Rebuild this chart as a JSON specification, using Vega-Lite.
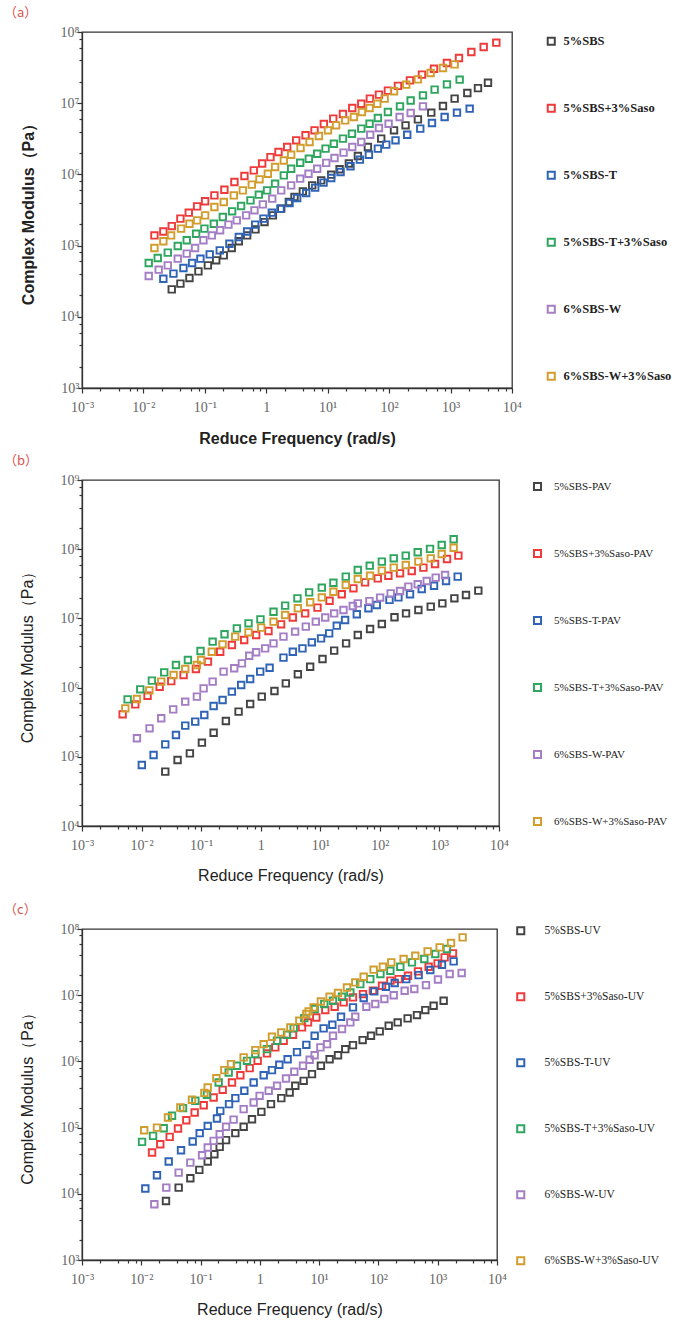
{
"$schema": "https://vega.github.io/schema/vega-lite/v6.json",
"background": "white",
"padding": {"left": 3, "top": 6, "right": 0, "bottom": 0},
"spacing": 19,
"config": {
  "view": {"stroke": "#333", "strokeWidth": 1.3},
  "axis": {"grid": false, "domainColor": "#333", "domainWidth": 1.3, "tickColor": "#333", "tickWidth": 1.2, "labelFont": "Liberation Serif", "labelFontSize": 14, "labelColor": "#666", "labelOverlap": false, "labelFlush": false, "titleColor": "#222", "titleFont": "Liberation Sans", "titleFontSize": 16}
},
"resolve": {"scale": {"color": "independent", "x": "independent", "y": "independent"}, "legend": {"color": "independent"}},
"datasets": {
"a": [
{"s":"5%SBS","f":0.0289,"g":2.43e4},{"s":"5%SBS","f":0.04,"g":2.92e4},{"s":"5%SBS","f":0.0561,"g":3.51e4},{"s":"5%SBS","f":0.0786,"g":4.35e4},{"s":"5%SBS","f":0.112,"g":5.28e4},{"s":"5%SBS","f":0.153,"g":6.21e4},{"s":"5%SBS","f":0.203,"g":7.29e4},{"s":"5%SBS","f":0.274,"g":9.25e4},{"s":"5%SBS","f":0.357,"g":1.15e5},{"s":"5%SBS","f":0.488,"g":1.39e5},{"s":"5%SBS","f":0.667,"g":1.69e5},{"s":"5%SBS","f":0.935,"g":2.14e5},{"s":"5%SBS","f":1.28,"g":2.66e5},{"s":"5%SBS","f":1.75,"g":3.3e5},{"s":"5%SBS","f":2.33,"g":4.09e5},{"s":"5%SBS","f":2.88,"g":4.81e5},{"s":"5%SBS","f":3.94,"g":5.78e5},{"s":"5%SBS","f":5.59,"g":7.02e5},{"s":"5%SBS","f":7.83,"g":8.25e5},{"s":"5%SBS","f":11.4,"g":9.91e5},{"s":"5%SBS","f":15.6,"g":1.18e6},{"s":"5%SBS","f":22.1,"g":1.42e6},{"s":"5%SBS","f":31,"g":1.81e6},{"s":"5%SBS","f":45.1,"g":2.43e6},{"s":"5%SBS","f":74.3,"g":3.18e6},{"s":"5%SBS","f":120,"g":4.16e6},{"s":"5%SBS","f":185,"g":4.89e6},{"s":"5%SBS","f":294,"g":5.93e6},{"s":"5%SBS","f":485,"g":7.36e6},{"s":"5%SBS","f":752,"g":9.14e6},{"s":"5%SBS","f":1164,"g":1.16e7},{"s":"5%SBS","f":1875,"g":1.39e7},{"s":"5%SBS","f":2793,"g":1.63e7},{"s":"5%SBS","f":4064,"g":1.94e7},
{"s":"5%SBS+3%Saso","f":0.0151,"g":1.39e5},{"s":"5%SBS+3%Saso","f":0.0211,"g":1.58e5},{"s":"5%SBS+3%Saso","f":0.0289,"g":1.88e5},{"s":"5%SBS+3%Saso","f":0.04,"g":2.39e5},{"s":"5%SBS+3%Saso","f":0.0547,"g":2.9e5},{"s":"5%SBS+3%Saso","f":0.0748,"g":3.56e5},{"s":"5%SBS+3%Saso","f":0.101,"g":4.19e5},{"s":"5%SBS+3%Saso","f":0.143,"g":5.08e5},{"s":"5%SBS+3%Saso","f":0.208,"g":6.1e5},{"s":"5%SBS+3%Saso","f":0.303,"g":7.82e5},{"s":"5%SBS+3%Saso","f":0.441,"g":9.49e5},{"s":"5%SBS+3%Saso","f":0.626,"g":1.14e6},{"s":"5%SBS+3%Saso","f":0.857,"g":1.42e6},{"s":"5%SBS+3%Saso","f":1.17,"g":1.75e6},{"s":"5%SBS+3%Saso","f":1.58,"g":2.06e6},{"s":"5%SBS+3%Saso","f":2.19,"g":2.43e6},{"s":"5%SBS+3%Saso","f":3.07,"g":3.01e6},{"s":"5%SBS+3%Saso","f":4.35,"g":3.54e6},{"s":"5%SBS+3%Saso","f":6.1,"g":4.16e6},{"s":"5%SBS+3%Saso","f":8.65,"g":5.1e6},{"s":"5%SBS+3%Saso","f":12.3,"g":6.07e6},{"s":"5%SBS+3%Saso","f":17.7,"g":7.05e6},{"s":"5%SBS+3%Saso","f":25.1,"g":8.57e6},{"s":"5%SBS+3%Saso","f":35.2,"g":9.84e6},{"s":"5%SBS+3%Saso","f":48.6,"g":1.16e7},{"s":"5%SBS+3%Saso","f":68.2,"g":1.32e7},{"s":"5%SBS+3%Saso","f":95.5,"g":1.5e7},{"s":"5%SBS+3%Saso","f":139,"g":1.75e7},{"s":"5%SBS+3%Saso","f":218,"g":2.09e7},{"s":"5%SBS+3%Saso","f":342,"g":2.52e7},{"s":"5%SBS+3%Saso","f":537,"g":3.05e7},{"s":"5%SBS+3%Saso","f":873,"g":3.67e7},{"s":"5%SBS+3%Saso","f":1371,"g":4.32e7},{"s":"5%SBS+3%Saso","f":2178,"g":5.24e7},{"s":"5%SBS+3%Saso","f":3459,"g":6.15e7},{"s":"5%SBS+3%Saso","f":5559,"g":7.08e7},
{"s":"5%SBS-T","f":0.0211,"g":3.43e4},{"s":"5%SBS-T","f":0.0308,"g":4.04e4},{"s":"5%SBS-T","f":0.0448,"g":4.84e4},{"s":"5%SBS-T","f":0.062,"g":5.69e4},{"s":"5%SBS-T","f":0.0847,"g":6.55e4},{"s":"5%SBS-T","f":0.12,"g":7.53e4},{"s":"5%SBS-T","f":0.175,"g":8.57e4},{"s":"5%SBS-T","f":0.251,"g":1.06e5},{"s":"5%SBS-T","f":0.357,"g":1.32e5},{"s":"5%SBS-T","f":0.488,"g":1.58e5},{"s":"5%SBS-T","f":0.659,"g":1.97e5},{"s":"5%SBS-T","f":0.9,"g":2.39e5},{"s":"5%SBS-T","f":1.23,"g":2.9e5},{"s":"5%SBS-T","f":1.7,"g":3.3e5},{"s":"5%SBS-T","f":2.39,"g":3.96e5},{"s":"5%SBS-T","f":3.18,"g":4.66e5},{"s":"5%SBS-T","f":4.46,"g":5.48e5},{"s":"5%SBS-T","f":6.25,"g":6.51e5},{"s":"5%SBS-T","f":8.55,"g":7.66e5},{"s":"5%SBS-T","f":11.4,"g":8.9e5},{"s":"5%SBS-T","f":16.2,"g":1.08e6},{"s":"5%SBS-T","f":23.5,"g":1.3e6},{"s":"5%SBS-T","f":33.4,"g":1.61e6},{"s":"5%SBS-T","f":46.8,"g":1.89e6},{"s":"5%SBS-T","f":65.6,"g":2.3e6},{"s":"5%SBS-T","f":89.7,"g":2.62e6},{"s":"5%SBS-T","f":127,"g":3.01e6},{"s":"5%SBS-T","f":197,"g":3.61e6},{"s":"5%SBS-T","f":321,"g":4.39e6},{"s":"5%SBS-T","f":498,"g":5.27e6},{"s":"5%SBS-T","f":800,"g":6.4e6},{"s":"5%SBS-T","f":1271,"g":7.36e6},{"s":"5%SBS-T","f":2046,"g":8.38e6},
{"s":"5%SBS-T+3%Saso","f":0.0122,"g":5.69e4},{"s":"5%SBS-T+3%Saso","f":0.0171,"g":6.7e4},{"s":"5%SBS-T+3%Saso","f":0.0249,"g":7.96e4},{"s":"5%SBS-T+3%Saso","f":0.0362,"g":9.86e4},{"s":"5%SBS-T+3%Saso","f":0.0507,"g":1.19e5},{"s":"5%SBS-T+3%Saso","f":0.072,"g":1.47e5},{"s":"5%SBS-T+3%Saso","f":0.0984,"g":1.73e5},{"s":"5%SBS-T+3%Saso","f":0.14,"g":2.03e5},{"s":"5%SBS-T+3%Saso","f":0.196,"g":2.52e5},{"s":"5%SBS-T+3%Saso","f":0.278,"g":3.03e5},{"s":"5%SBS-T+3%Saso","f":0.389,"g":3.6e5},{"s":"5%SBS-T+3%Saso","f":0.553,"g":4.32e5},{"s":"5%SBS-T+3%Saso","f":0.756,"g":5.19e5},{"s":"5%SBS-T+3%Saso","f":1.03,"g":5.97e5},{"s":"5%SBS-T+3%Saso","f":1.39,"g":7.41e5},{"s":"5%SBS-T+3%Saso","f":1.93,"g":9.7e5},{"s":"5%SBS-T+3%Saso","f":2.54,"g":1.2e6},{"s":"5%SBS-T+3%Saso","f":3.56,"g":1.46e6},{"s":"5%SBS-T+3%Saso","f":4.93,"g":1.66e6},{"s":"5%SBS-T+3%Saso","f":6.74,"g":1.95e6},{"s":"5%SBS-T+3%Saso","f":9.22,"g":2.3e6},{"s":"5%SBS-T+3%Saso","f":12.6,"g":2.7e6},{"s":"5%SBS-T+3%Saso","f":17.7,"g":3.18e6},{"s":"5%SBS-T+3%Saso","f":24.8,"g":3.73e6},{"s":"5%SBS-T+3%Saso","f":35.2,"g":4.39e6},{"s":"5%SBS-T+3%Saso","f":48,"g":5.15e6},{"s":"5%SBS-T+3%Saso","f":65.6,"g":6.19e6},{"s":"5%SBS-T+3%Saso","f":95.5,"g":7.52e6},{"s":"5%SBS-T+3%Saso","f":150,"g":9.04e6},{"s":"5%SBS-T+3%Saso","f":224,"g":1.09e7},{"s":"5%SBS-T+3%Saso","f":355,"g":1.29e7},{"s":"5%SBS-T+3%Saso","f":550,"g":1.55e7},{"s":"5%SBS-T+3%Saso","f":873,"g":1.84e7},{"s":"5%SBS-T+3%Saso","f":1406,"g":2.14e7},
{"s":"6%SBS-W","f":0.0122,"g":3.74e4},{"s":"6%SBS-W","f":0.0177,"g":4.59e4},{"s":"6%SBS-W","f":0.0249,"g":5.28e4},{"s":"6%SBS-W","f":0.0362,"g":6.55e4},{"s":"6%SBS-W","f":0.0507,"g":7.71e4},{"s":"6%SBS-W","f":0.0693,"g":9.25e4},{"s":"6%SBS-W","f":0.0948,"g":1.19e5},{"s":"6%SBS-W","f":0.13,"g":1.39e5},{"s":"6%SBS-W","f":0.177,"g":1.64e5},{"s":"6%SBS-W","f":0.242,"g":1.97e5},{"s":"6%SBS-W","f":0.331,"g":2.26e5},{"s":"6%SBS-W","f":0.47,"g":2.66e5},{"s":"6%SBS-W","f":0.642,"g":3.13e5},{"s":"6%SBS-W","f":0.879,"g":3.79e5},{"s":"6%SBS-W","f":1.25,"g":4.56e5},{"s":"6%SBS-W","f":1.75,"g":5.97e5},{"s":"6%SBS-W","f":2.54,"g":7.02e5},{"s":"6%SBS-W","f":3.56,"g":8.71e5},{"s":"6%SBS-W","f":4.87,"g":1.02e6},{"s":"6%SBS-W","f":6.74,"g":1.2e6},{"s":"6%SBS-W","f":9.45,"g":1.45e6},{"s":"6%SBS-W","f":12.9,"g":1.7e6},{"s":"6%SBS-W","f":18.1,"g":2.02e6},{"s":"6%SBS-W","f":25.1,"g":2.43e6},{"s":"6%SBS-W","f":35.2,"g":2.85e6},{"s":"6%SBS-W","f":49.2,"g":3.61e6},{"s":"6%SBS-W","f":68.2,"g":4.49e6},{"s":"6%SBS-W","f":98,"g":5.15e6},{"s":"6%SBS-W","f":148,"g":6.4e6},{"s":"6%SBS-W","f":224,"g":7.28e6},{"s":"6%SBS-W","f":355,"g":9.04e6},
{"s":"6%SBS-W+3%Saso","f":0.0151,"g":9.25e4},{"s":"6%SBS-W+3%Saso","f":0.0211,"g":1.15e5},{"s":"6%SBS-W+3%Saso","f":0.0282,"g":1.39e5},{"s":"6%SBS-W+3%Saso","f":0.041,"g":1.73e5},{"s":"6%SBS-W+3%Saso","f":0.0561,"g":2.03e5},{"s":"6%SBS-W+3%Saso","f":0.0748,"g":2.26e5},{"s":"6%SBS-W+3%Saso","f":0.101,"g":2.66e5},{"s":"6%SBS-W+3%Saso","f":0.143,"g":3.48e5},{"s":"6%SBS-W+3%Saso","f":0.203,"g":4.09e5},{"s":"6%SBS-W+3%Saso","f":0.296,"g":5.08e5},{"s":"6%SBS-W+3%Saso","f":0.415,"g":5.97e5},{"s":"6%SBS-W+3%Saso","f":0.581,"g":7.18e5},{"s":"6%SBS-W+3%Saso","f":0.775,"g":8.53e5},{"s":"6%SBS-W+3%Saso","f":1.06,"g":1.02e6},{"s":"6%SBS-W+3%Saso","f":1.39,"g":1.27e6},{"s":"6%SBS-W+3%Saso","f":1.93,"g":1.57e6},{"s":"6%SBS-W+3%Saso","f":2.54,"g":1.89e6},{"s":"6%SBS-W+3%Saso","f":3.61,"g":2.35e6},{"s":"6%SBS-W+3%Saso","f":5.06,"g":2.85e6},{"s":"6%SBS-W+3%Saso","f":7.18,"g":3.46e6},{"s":"6%SBS-W+3%Saso","f":10.1,"g":4.16e6},{"s":"6%SBS-W+3%Saso","f":13.7,"g":4.89e6},{"s":"6%SBS-W+3%Saso","f":19.3,"g":5.74e6},{"s":"6%SBS-W+3%Saso","f":26.7,"g":6.4e6},{"s":"6%SBS-W+3%Saso","f":36,"g":7.52e6},{"s":"6%SBS-W+3%Saso","f":48,"g":8.57e6},{"s":"6%SBS-W+3%Saso","f":64,"g":9.84e6},{"s":"6%SBS-W+3%Saso","f":84.3,"g":1.16e7},{"s":"6%SBS-W+3%Saso","f":120,"g":1.47e7},{"s":"6%SBS-W+3%Saso","f":190,"g":1.82e7},{"s":"6%SBS-W+3%Saso","f":294,"g":2.16e7},{"s":"6%SBS-W+3%Saso","f":473,"g":2.65e7},{"s":"6%SBS-W+3%Saso","f":752,"g":3.12e7},{"s":"6%SBS-W+3%Saso","f":1164,"g":3.51e7}
],
"b": [
{"s":"5%SBS-PAV","f":0.025,"g":6.1e4},{"s":"5%SBS-PAV","f":0.0402,"g":8.99e4},{"s":"5%SBS-PAV","f":0.0647,"g":1.12e5},{"s":"5%SBS-PAV","f":0.103,"g":1.6e5},{"s":"5%SBS-PAV","f":0.162,"g":2.23e5},{"s":"5%SBS-PAV","f":0.26,"g":3.29e5},{"s":"5%SBS-PAV","f":0.425,"g":4.49e5},{"s":"5%SBS-PAV","f":0.665,"g":5.79e5},{"s":"5%SBS-PAV","f":1.04,"g":7.4e5},{"s":"5%SBS-PAV","f":1.7,"g":8.93e5},{"s":"5%SBS-PAV","f":2.64,"g":1.15e6},{"s":"5%SBS-PAV","f":4.2,"g":1.56e6},{"s":"5%SBS-PAV","f":6.76,"g":2e6},{"s":"5%SBS-PAV","f":10.9,"g":2.59e6},{"s":"5%SBS-PAV","f":17.1,"g":3.42e6},{"s":"5%SBS-PAV","f":27.1,"g":4.36e6},{"s":"5%SBS-PAV","f":42.6,"g":5.75e6},{"s":"5%SBS-PAV","f":68.5,"g":7.03e6},{"s":"5%SBS-PAV","f":108,"g":8.3e6},{"s":"5%SBS-PAV","f":176,"g":1.04e7},{"s":"5%SBS-PAV","f":275,"g":1.18e7},{"s":"5%SBS-PAV","f":443,"g":1.32e7},{"s":"5%SBS-PAV","f":714,"g":1.48e7},{"s":"5%SBS-PAV","f":1120,"g":1.65e7},{"s":"5%SBS-PAV","f":1782,"g":1.95e7},{"s":"5%SBS-PAV","f":2793,"g":2.18e7},{"s":"5%SBS-PAV","f":4498,"g":2.52e7},
{"s":"5%SBS+3%Saso-PAV","f":0.00481,"g":4.11e5},{"s":"5%SBS+3%Saso-PAV","f":0.00784,"g":5.73e5},{"s":"5%SBS+3%Saso-PAV","f":0.0126,"g":7.64e5},{"s":"5%SBS+3%Saso-PAV","f":0.0201,"g":1.03e6},{"s":"5%SBS+3%Saso-PAV","f":0.0315,"g":1.24e6},{"s":"5%SBS+3%Saso-PAV","f":0.0507,"g":1.52e6},{"s":"5%SBS+3%Saso-PAV","f":0.0817,"g":1.86e6},{"s":"5%SBS+3%Saso-PAV","f":0.13,"g":2.37e6},{"s":"5%SBS+3%Saso-PAV","f":0.209,"g":3.3e6},{"s":"5%SBS+3%Saso-PAV","f":0.328,"g":4.13e6},{"s":"5%SBS+3%Saso-PAV","f":0.528,"g":4.88e6},{"s":"5%SBS+3%Saso-PAV","f":0.839,"g":5.75e6},{"s":"5%SBS+3%Saso-PAV","f":1.35,"g":6.58e6},{"s":"5%SBS+3%Saso-PAV","f":2.2,"g":8.21e6},{"s":"5%SBS+3%Saso-PAV","f":3.46,"g":1.03e7},{"s":"5%SBS+3%Saso-PAV","f":5.57,"g":1.18e7},{"s":"5%SBS+3%Saso-PAV","f":8.97,"g":1.43e7},{"s":"5%SBS+3%Saso-PAV","f":14.3,"g":1.8e7},{"s":"5%SBS+3%Saso-PAV","f":22.9,"g":2.23e7},{"s":"5%SBS+3%Saso-PAV","f":36,"g":2.72e7},{"s":"5%SBS+3%Saso-PAV","f":56.5,"g":3.32e7},{"s":"5%SBS+3%Saso-PAV","f":92.2,"g":3.79e7},{"s":"5%SBS+3%Saso-PAV","f":139,"g":4.14e7},{"s":"5%SBS+3%Saso-PAV","f":218,"g":4.48e7},{"s":"5%SBS+3%Saso-PAV","f":343,"g":4.84e7},{"s":"5%SBS+3%Saso-PAV","f":538,"g":5.41e7},{"s":"5%SBS+3%Saso-PAV","f":844,"g":6.11e7},{"s":"5%SBS+3%Saso-PAV","f":1342,"g":7.21e7},{"s":"5%SBS+3%Saso-PAV","f":2080,"g":8.07e7},
{"s":"5%SBS-T-PAV","f":0.0101,"g":7.61e4},{"s":"5%SBS-T-PAV","f":0.0159,"g":1.06e5},{"s":"5%SBS-T-PAV","f":0.025,"g":1.51e5},{"s":"5%SBS-T-PAV","f":0.0378,"g":2.07e5},{"s":"5%SBS-T-PAV","f":0.0541,"g":2.82e5},{"s":"5%SBS-T-PAV","f":0.0796,"g":3.22e5},{"s":"5%SBS-T-PAV","f":0.113,"g":4.02e5},{"s":"5%SBS-T-PAV","f":0.162,"g":5.42e5},{"s":"5%SBS-T-PAV","f":0.229,"g":6.62e5},{"s":"5%SBS-T-PAV","f":0.328,"g":8.73e5},{"s":"5%SBS-T-PAV","f":0.47,"g":1.09e6},{"s":"5%SBS-T-PAV","f":0.665,"g":1.33e6},{"s":"5%SBS-T-PAV","f":0.98,"g":1.7e6},{"s":"5%SBS-T-PAV","f":1.41,"g":1.94e6},{"s":"5%SBS-T-PAV","f":2.41,"g":2.71e6},{"s":"5%SBS-T-PAV","f":3.46,"g":3.3e6},{"s":"5%SBS-T-PAV","f":5.02,"g":3.69e6},{"s":"5%SBS-T-PAV","f":7.21,"g":4.51e6},{"s":"5%SBS-T-PAV","f":10.3,"g":5.15e6},{"s":"5%SBS-T-PAV","f":14.1,"g":6.08e6},{"s":"5%SBS-T-PAV","f":18.9,"g":7.85e6},{"s":"5%SBS-T-PAV","f":26.1,"g":9.48e6},{"s":"5%SBS-T-PAV","f":41,"g":1.15e7},{"s":"5%SBS-T-PAV","f":64.3,"g":1.4e7},{"s":"5%SBS-T-PAV","f":88.7,"g":1.56e7},{"s":"5%SBS-T-PAV","f":145,"g":1.85e7},{"s":"5%SBS-T-PAV","f":205,"g":2.01e7},{"s":"5%SBS-T-PAV","f":321,"g":2.23e7},{"s":"5%SBS-T-PAV","f":504,"g":2.66e7},{"s":"5%SBS-T-PAV","f":812,"g":2.97e7},{"s":"5%SBS-T-PAV","f":1291,"g":3.47e7},{"s":"5%SBS-T-PAV","f":2026,"g":4.01e7},
{"s":"5%SBS-T+3%Saso-PAV","f":0.00583,"g":6.76e5},{"s":"5%SBS-T+3%Saso-PAV","f":0.00951,"g":9.44e5},{"s":"5%SBS-T+3%Saso-PAV","f":0.0149,"g":1.26e6},{"s":"5%SBS-T+3%Saso-PAV","f":0.024,"g":1.66e6},{"s":"5%SBS-T+3%Saso-PAV","f":0.0378,"g":2.12e6},{"s":"5%SBS-T+3%Saso-PAV","f":0.06,"g":2.51e6},{"s":"5%SBS-T+3%Saso-PAV","f":0.0977,"g":3.38e6},{"s":"5%SBS-T+3%Saso-PAV","f":0.156,"g":4.61e6},{"s":"5%SBS-T+3%Saso-PAV","f":0.247,"g":5.89e6},{"s":"5%SBS-T+3%Saso-PAV","f":0.398,"g":7.18e6},{"s":"5%SBS-T+3%Saso-PAV","f":0.624,"g":8.49e6},{"s":"5%SBS-T+3%Saso-PAV","f":0.99,"g":9.68e6},{"s":"5%SBS-T+3%Saso-PAV","f":1.64,"g":1.25e7},{"s":"5%SBS-T+3%Saso-PAV","f":2.57,"g":1.53e7},{"s":"5%SBS-T+3%Saso-PAV","f":4.14,"g":1.95e7},{"s":"5%SBS-T+3%Saso-PAV","f":6.5,"g":2.38e7},{"s":"5%SBS-T+3%Saso-PAV","f":10.6,"g":2.78e7},{"s":"5%SBS-T+3%Saso-PAV","f":16.6,"g":3.28e7},{"s":"5%SBS-T+3%Saso-PAV","f":26.8,"g":4.01e7},{"s":"5%SBS-T+3%Saso-PAV","f":42.6,"g":5e7},{"s":"5%SBS-T+3%Saso-PAV","f":67.6,"g":5.78e7},{"s":"5%SBS-T+3%Saso-PAV","f":108,"g":6.61e7},{"s":"5%SBS-T+3%Saso-PAV","f":171,"g":7.38e7},{"s":"5%SBS-T+3%Saso-PAV","f":272,"g":8.07e7},{"s":"5%SBS-T+3%Saso-PAV","f":432,"g":9.02e7},{"s":"5%SBS-T+3%Saso-PAV","f":695,"g":1.01e8},{"s":"5%SBS-T+3%Saso-PAV","f":1092,"g":1.15e8},{"s":"5%SBS-T+3%Saso-PAV","f":1734,"g":1.39e8},
{"s":"6%SBS-W-PAV","f":0.00836,"g":1.85e5},{"s":"6%SBS-W-PAV","f":0.0136,"g":2.58e5},{"s":"6%SBS-W-PAV","f":0.0214,"g":3.6e5},{"s":"6%SBS-W-PAV","f":0.034,"g":4.85e5},{"s":"6%SBS-W-PAV","f":0.0541,"g":6.26e5},{"s":"6%SBS-W-PAV","f":0.0849,"g":7.4e5},{"s":"6%SBS-W-PAV","f":0.11,"g":9.75e5},{"s":"6%SBS-W-PAV","f":0.156,"g":1.22e6},{"s":"6%SBS-W-PAV","f":0.238,"g":1.7e6},{"s":"6%SBS-W-PAV","f":0.359,"g":1.9e6},{"s":"6%SBS-W-PAV","f":0.483,"g":2.24e6},{"s":"6%SBS-W-PAV","f":0.641,"g":2.89e6},{"s":"6%SBS-W-PAV","f":0.839,"g":3.24e6},{"s":"6%SBS-W-PAV","f":1.19,"g":3.69e6},{"s":"6%SBS-W-PAV","f":1.64,"g":4.36e6},{"s":"6%SBS-W-PAV","f":2.41,"g":5.45e6},{"s":"6%SBS-W-PAV","f":3.78,"g":6.43e6},{"s":"6%SBS-W-PAV","f":5.71,"g":7.6e6},{"s":"6%SBS-W-PAV","f":8.41,"g":8.97e6},{"s":"6%SBS-W-PAV","f":12.1,"g":1.03e7},{"s":"6%SBS-W-PAV","f":17.1,"g":1.18e7},{"s":"6%SBS-W-PAV","f":24.5,"g":1.32e7},{"s":"6%SBS-W-PAV","f":35.1,"g":1.51e7},{"s":"6%SBS-W-PAV","f":42.6,"g":1.65e7},{"s":"6%SBS-W-PAV","f":66.8,"g":1.78e7},{"s":"6%SBS-W-PAV","f":101,"g":2e7},{"s":"6%SBS-W-PAV","f":152,"g":2.3e7},{"s":"6%SBS-W-PAV","f":218,"g":2.49e7},{"s":"6%SBS-W-PAV","f":301,"g":2.88e7},{"s":"6%SBS-W-PAV","f":432,"g":3.11e7},{"s":"6%SBS-W-PAV","f":612,"g":3.47e7},{"s":"6%SBS-W-PAV","f":866,"g":3.88e7},{"s":"6%SBS-W-PAV","f":1242,"g":4.24e7},
{"s":"6%SBS-W+3%Saso-PAV","f":0.00533,"g":5.01e5},{"s":"6%SBS-W+3%Saso-PAV","f":0.00836,"g":6.84e5},{"s":"6%SBS-W+3%Saso-PAV","f":0.0135,"g":9.12e5},{"s":"6%SBS-W+3%Saso-PAV","f":0.0214,"g":1.22e6},{"s":"6%SBS-W+3%Saso-PAV","f":0.0345,"g":1.52e6},{"s":"6%SBS-W+3%Saso-PAV","f":0.0541,"g":1.86e6},{"s":"6%SBS-W+3%Saso-PAV","f":0.0849,"g":2.12e6},{"s":"6%SBS-W+3%Saso-PAV","f":0.1,"g":2.51e6},{"s":"6%SBS-W+3%Saso-PAV","f":0.151,"g":3.3e6},{"s":"6%SBS-W+3%Saso-PAV","f":0.229,"g":4.22e6},{"s":"6%SBS-W+3%Saso-PAV","f":0.373,"g":5.45e6},{"s":"6%SBS-W+3%Saso-PAV","f":0.624,"g":6.29e6},{"s":"6%SBS-W+3%Saso-PAV","f":1.02,"g":7.35e6},{"s":"6%SBS-W+3%Saso-PAV","f":1.64,"g":8.97e6},{"s":"6%SBS-W+3%Saso-PAV","f":2.57,"g":1.12e7},{"s":"6%SBS-W+3%Saso-PAV","f":4.2,"g":1.4e7},{"s":"6%SBS-W+3%Saso-PAV","f":6.76,"g":1.71e7},{"s":"6%SBS-W+3%Saso-PAV","f":10.6,"g":2.01e7},{"s":"6%SBS-W+3%Saso-PAV","f":16.6,"g":2.43e7},{"s":"6%SBS-W+3%Saso-PAV","f":26.8,"g":3.04e7},{"s":"6%SBS-W+3%Saso-PAV","f":42.6,"g":3.71e7},{"s":"6%SBS-W+3%Saso-PAV","f":68.5,"g":4.14e7},{"s":"6%SBS-W+3%Saso-PAV","f":108,"g":4.9e7},{"s":"6%SBS-W+3%Saso-PAV","f":171,"g":5.41e7},{"s":"6%SBS-W+3%Saso-PAV","f":272,"g":5.92e7},{"s":"6%SBS-W+3%Saso-PAV","f":443,"g":6.61e7},{"s":"6%SBS-W+3%Saso-PAV","f":714,"g":7.38e7},{"s":"6%SBS-W+3%Saso-PAV","f":1092,"g":8.53e7},{"s":"6%SBS-W+3%Saso-PAV","f":1734,"g":1.05e8}
],
"c": [
{"s":"5%SBS-UV","f":0.0261,"g":7.8e3},{"s":"5%SBS-UV","f":0.0427,"g":1.24e4},{"s":"5%SBS-UV","f":0.0672,"g":1.72e4},{"s":"5%SBS-UV","f":0.0953,"g":2.3e4},{"s":"5%SBS-UV","f":0.132,"g":3.07e4},{"s":"5%SBS-UV","f":0.171,"g":3.96e4},{"s":"5%SBS-UV","f":0.21,"g":5.12e4},{"s":"5%SBS-UV","f":0.269,"g":6.46e4},{"s":"5%SBS-UV","f":0.386,"g":8.24e4},{"s":"5%SBS-UV","f":0.533,"g":1.03e5},{"s":"5%SBS-UV","f":0.737,"g":1.34e5},{"s":"5%SBS-UV","f":1.06,"g":1.73e5},{"s":"5%SBS-UV","f":1.54,"g":2.26e5},{"s":"5%SBS-UV","f":2.3,"g":2.79e5},{"s":"5%SBS-UV","f":3.18,"g":3.39e5},{"s":"5%SBS-UV","f":3.96,"g":4.28e5},{"s":"5%SBS-UV","f":5.48,"g":5.09e5},{"s":"5%SBS-UV","f":7.57,"g":6.43e5},{"s":"5%SBS-UV","f":10.7,"g":8.59e5},{"s":"5%SBS-UV","f":15,"g":1.08e6},{"s":"5%SBS-UV","f":20.8,"g":1.24e6},{"s":"5%SBS-UV","f":27.6,"g":1.53e6},{"s":"5%SBS-UV","f":37.2,"g":1.76e6},{"s":"5%SBS-UV","f":54.2,"g":2.1e6},{"s":"5%SBS-UV","f":74.9,"g":2.44e6},{"s":"5%SBS-UV","f":105,"g":2.84e6},{"s":"5%SBS-UV","f":149,"g":3.45e6},{"s":"5%SBS-UV","f":211,"g":3.88e6},{"s":"5%SBS-UV","f":311,"g":4.46e6},{"s":"5%SBS-UV","f":447,"g":5.01e6},{"s":"5%SBS-UV","f":618,"g":5.96e6},{"s":"5%SBS-UV","f":853,"g":6.93e6},{"s":"5%SBS-UV","f":1259,"g":8.24e6},
{"s":"5%SBS+3%Saso-UV","f":0.0152,"g":4.2e4},{"s":"5%SBS+3%Saso-UV","f":0.0209,"g":5.61e4},{"s":"5%SBS+3%Saso-UV","f":0.0301,"g":7.24e4},{"s":"5%SBS+3%Saso-UV","f":0.0416,"g":9.68e4},{"s":"5%SBS+3%Saso-UV","f":0.0575,"g":1.29e5},{"s":"5%SBS+3%Saso-UV","f":0.0795,"g":1.69e5},{"s":"5%SBS+3%Saso-UV","f":0.113,"g":2.18e5},{"s":"5%SBS+3%Saso-UV","f":0.166,"g":2.85e5},{"s":"5%SBS+3%Saso-UV","f":0.236,"g":3.72e5},{"s":"5%SBS+3%Saso-UV","f":0.339,"g":4.81e5},{"s":"5%SBS+3%Saso-UV","f":0.469,"g":6.19e5},{"s":"5%SBS+3%Saso-UV","f":0.673,"g":7.91e5},{"s":"5%SBS+3%Saso-UV","f":0.918,"g":1.02e6},{"s":"5%SBS+3%Saso-UV","f":1.32,"g":1.32e6},{"s":"5%SBS+3%Saso-UV","f":1.82,"g":1.63e6},{"s":"5%SBS+3%Saso-UV","f":2.52,"g":2.05e6},{"s":"5%SBS+3%Saso-UV","f":3.62,"g":2.52e6},{"s":"5%SBS+3%Saso-UV","f":5.14,"g":3.26e6},{"s":"5%SBS+3%Saso-UV","f":6.49,"g":3.88e6},{"s":"5%SBS+3%Saso-UV","f":8.96,"g":4.61e6},{"s":"5%SBS+3%Saso-UV","f":12.7,"g":5.96e6},{"s":"5%SBS+3%Saso-UV","f":18.3,"g":6.7e6},{"s":"5%SBS+3%Saso-UV","f":25.9,"g":7.78e6},{"s":"5%SBS+3%Saso-UV","f":37.2,"g":9.27e6},{"s":"5%SBS+3%Saso-UV","f":54.8,"g":1.04e7},{"s":"5%SBS+3%Saso-UV","f":80.9,"g":1.17e7},{"s":"5%SBS+3%Saso-UV","f":115,"g":1.39e7},{"s":"5%SBS+3%Saso-UV","f":159,"g":1.66e7},{"s":"5%SBS+3%Saso-UV","f":219,"g":1.75e7},{"s":"5%SBS+3%Saso-UV","f":315,"g":1.97e7},{"s":"5%SBS+3%Saso-UV","f":465,"g":2.29e7},{"s":"5%SBS+3%Saso-UV","f":703,"g":2.69e7},{"s":"5%SBS+3%Saso-UV","f":997,"g":3.03e7},{"s":"5%SBS+3%Saso-UV","f":1309,"g":3.73e7},{"s":"5%SBS+3%Saso-UV","f":1807,"g":4.29e7},
{"s":"5%SBS-T-UV","f":0.0117,"g":1.2e4},{"s":"5%SBS-T-UV","f":0.0184,"g":1.91e4},{"s":"5%SBS-T-UV","f":0.029,"g":3.07e4},{"s":"5%SBS-T-UV","f":0.0468,"g":4.55e4},{"s":"5%SBS-T-UV","f":0.0736,"g":6.17e4},{"s":"5%SBS-T-UV","f":0.0966,"g":8.24e4},{"s":"5%SBS-T-UV","f":0.132,"g":1.06e5},{"s":"5%SBS-T-UV","f":0.189,"g":1.37e5},{"s":"5%SBS-T-UV","f":0.215,"g":1.79e5},{"s":"5%SBS-T-UV","f":0.302,"g":2.26e5},{"s":"5%SBS-T-UV","f":0.386,"g":2.79e5},{"s":"5%SBS-T-UV","f":0.547,"g":3.6e5},{"s":"5%SBS-T-UV","f":0.786,"g":4.81e5},{"s":"5%SBS-T-UV","f":1.16,"g":6.19e5},{"s":"5%SBS-T-UV","f":1.6,"g":7.38e5},{"s":"5%SBS-T-UV","f":2.13,"g":8.89e5},{"s":"5%SBS-T-UV","f":2.94,"g":1.08e6},{"s":"5%SBS-T-UV","f":4.23,"g":1.38e6},{"s":"5%SBS-T-UV","f":6.08,"g":1.78e6},{"s":"5%SBS-T-UV","f":8.4,"g":2.44e6},{"s":"5%SBS-T-UV","f":11.9,"g":3.15e6},{"s":"5%SBS-T-UV","f":16.7,"g":3.58e6},{"s":"5%SBS-T-UV","f":23.4,"g":4.72e6},{"s":"5%SBS-T-UV","f":37.2,"g":6.55e6},{"s":"5%SBS-T-UV","f":56.4,"g":9.06e6},{"s":"5%SBS-T-UV","f":85.2,"g":1.14e7},{"s":"5%SBS-T-UV","f":134,"g":1.34e7},{"s":"5%SBS-T-UV","f":188,"g":1.53e7},{"s":"5%SBS-T-UV","f":295,"g":1.75e7},{"s":"5%SBS-T-UV","f":476,"g":2.01e7},{"s":"5%SBS-T-UV","f":750,"g":2.4e7},{"s":"5%SBS-T-UV","f":1180,"g":2.89e7},{"s":"5%SBS-T-UV","f":1856,"g":3.24e7},
{"s":"5%SBS-T+3%Saso-UV","f":0.0103,"g":6.08e4},{"s":"5%SBS-T+3%Saso-UV","f":0.0158,"g":7.5e4},{"s":"5%SBS-T+3%Saso-UV","f":0.0239,"g":9.79e4},{"s":"5%SBS-T+3%Saso-UV","f":0.033,"g":1.51e5},{"s":"5%SBS-T+3%Saso-UV","f":0.0506,"g":1.97e5},{"s":"5%SBS-T+3%Saso-UV","f":0.0817,"g":2.54e5},{"s":"5%SBS-T+3%Saso-UV","f":0.128,"g":3.13e5},{"s":"5%SBS-T+3%Saso-UV","f":0.202,"g":4.81e5},{"s":"5%SBS-T+3%Saso-UV","f":0.298,"g":6.81e5},{"s":"5%SBS-T+3%Saso-UV","f":0.411,"g":8.59e5},{"s":"5%SBS-T+3%Saso-UV","f":0.607,"g":1.02e6},{"s":"5%SBS-T+3%Saso-UV","f":0.839,"g":1.29e6},{"s":"5%SBS-T+3%Saso-UV","f":1.32,"g":1.53e6},{"s":"5%SBS-T+3%Saso-UV","f":1.95,"g":2.05e6},{"s":"5%SBS-T+3%Saso-UV","f":2.87,"g":2.52e6},{"s":"5%SBS-T+3%Saso-UV","f":3.72,"g":3.18e6},{"s":"5%SBS-T+3%Saso-UV","f":5.62,"g":4.51e6},{"s":"5%SBS-T+3%Saso-UV","f":8.4,"g":6.17e6},{"s":"5%SBS-T+3%Saso-UV","f":12.2,"g":7.35e6},{"s":"5%SBS-T+3%Saso-UV","f":17.1,"g":8.24e6},{"s":"5%SBS-T+3%Saso-UV","f":24.3,"g":9.48e6},{"s":"5%SBS-T+3%Saso-UV","f":33.6,"g":1.1e7},{"s":"5%SBS-T+3%Saso-UV","f":49.4,"g":1.47e7},{"s":"5%SBS-T+3%Saso-UV","f":72.9,"g":1.75e7},{"s":"5%SBS-T+3%Saso-UV","f":108,"g":2.09e7},{"s":"5%SBS-T+3%Saso-UV","f":159,"g":2.34e7},{"s":"5%SBS-T+3%Saso-UV","f":234,"g":2.69e7},{"s":"5%SBS-T+3%Saso-UV","f":368,"g":3.13e7},{"s":"5%SBS-T+3%Saso-UV","f":594,"g":3.52e7},{"s":"5%SBS-T+3%Saso-UV","f":911,"g":4.19e7},{"s":"5%SBS-T+3%Saso-UV","f":1432,"g":4.99e7},
{"s":"6%SBS-W-UV","f":0.0166,"g":6.95e3},{"s":"6%SBS-W-UV","f":0.0264,"g":1.24e4},{"s":"6%SBS-W-UV","f":0.0427,"g":2.09e4},{"s":"6%SBS-W-UV","f":0.0672,"g":2.96e4},{"s":"6%SBS-W-UV","f":0.106,"g":3.83e4},{"s":"6%SBS-W-UV","f":0.132,"g":5e4},{"s":"6%SBS-W-UV","f":0.166,"g":6.31e4},{"s":"6%SBS-W-UV","f":0.21,"g":7.94e4},{"s":"6%SBS-W-UV","f":0.269,"g":1.03e5},{"s":"6%SBS-W-UV","f":0.361,"g":1.32e5},{"s":"6%SBS-W-UV","f":0.533,"g":1.9e5},{"s":"6%SBS-W-UV","f":0.786,"g":2.39e5},{"s":"6%SBS-W-UV","f":0.99,"g":3.02e5},{"s":"6%SBS-W-UV","f":1.41,"g":3.6e5},{"s":"6%SBS-W-UV","f":1.95,"g":4.28e5},{"s":"6%SBS-W-UV","f":2.76,"g":5.52e5},{"s":"6%SBS-W-UV","f":3.81,"g":6.97e5},{"s":"6%SBS-W-UV","f":5.34,"g":8.59e5},{"s":"6%SBS-W-UV","f":6.92,"g":1.06e6},{"s":"6%SBS-W-UV","f":8.4,"g":1.24e6},{"s":"6%SBS-W-UV","f":10.5,"g":1.63e6},{"s":"6%SBS-W-UV","f":13.6,"g":1.82e6},{"s":"6%SBS-W-UV","f":17.1,"g":2.44e6},{"s":"6%SBS-W-UV","f":24.3,"g":3.08e6},{"s":"6%SBS-W-UV","f":33.6,"g":3.88e6},{"s":"6%SBS-W-UV","f":40.7,"g":4.72e6},{"s":"6%SBS-W-UV","f":62.5,"g":6.7e6},{"s":"6%SBS-W-UV","f":88.6,"g":7.35e6},{"s":"6%SBS-W-UV","f":126,"g":8.75e6},{"s":"6%SBS-W-UV","f":181,"g":1e7},{"s":"6%SBS-W-UV","f":277,"g":1.17e7},{"s":"6%SBS-W-UV","f":403,"g":1.24e7},{"s":"6%SBS-W-UV","f":634,"g":1.42e7},{"s":"6%SBS-W-UV","f":1010,"g":1.73e7},{"s":"6%SBS-W-UV","f":1589,"g":2.09e7},{"s":"6%SBS-W-UV","f":2535,"g":2.16e7},
{"s":"6%SBS-W+3%Saso-UV","f":0.0112,"g":9.14e4},{"s":"6%SBS-W+3%Saso-UV","f":0.0184,"g":1e5},{"s":"6%SBS-W+3%Saso-UV","f":0.0282,"g":1.42e5},{"s":"6%SBS-W+3%Saso-UV","f":0.0456,"g":2.01e5},{"s":"6%SBS-W+3%Saso-UV","f":0.0716,"g":2.63e5},{"s":"6%SBS-W+3%Saso-UV","f":0.116,"g":3.35e5},{"s":"6%SBS-W+3%Saso-UV","f":0.132,"g":4.04e5},{"s":"6%SBS-W+3%Saso-UV","f":0.185,"g":5.58e5},{"s":"6%SBS-W+3%Saso-UV","f":0.252,"g":7.38e5},{"s":"6%SBS-W+3%Saso-UV","f":0.326,"g":9.1e5},{"s":"6%SBS-W+3%Saso-UV","f":0.533,"g":1.15e6},{"s":"6%SBS-W+3%Saso-UV","f":0.839,"g":1.48e6},{"s":"6%SBS-W+3%Saso-UV","f":1.16,"g":1.82e6},{"s":"6%SBS-W+3%Saso-UV","f":1.6,"g":2.36e6},{"s":"6%SBS-W+3%Saso-UV","f":2.3,"g":2.74e6},{"s":"6%SBS-W+3%Saso-UV","f":3.27,"g":3.26e6},{"s":"6%SBS-W+3%Saso-UV","f":4.63,"g":4.11e6},{"s":"6%SBS-W+3%Saso-UV","f":6.08,"g":5.19e6},{"s":"6%SBS-W+3%Saso-UV","f":6.65,"g":5.69e6},{"s":"6%SBS-W+3%Saso-UV","f":8.07,"g":6.55e6},{"s":"6%SBS-W+3%Saso-UV","f":10.7,"g":8.05e6},{"s":"6%SBS-W+3%Saso-UV","f":15,"g":9.48e6},{"s":"6%SBS-W+3%Saso-UV","f":20.8,"g":1.08e7},{"s":"6%SBS-W+3%Saso-UV","f":29.5,"g":1.31e7},{"s":"6%SBS-W+3%Saso-UV","f":40.7,"g":1.56e7},{"s":"6%SBS-W+3%Saso-UV","f":56.4,"g":1.9e7},{"s":"6%SBS-W+3%Saso-UV","f":83,"g":2.43e7},{"s":"6%SBS-W+3%Saso-UV","f":119,"g":2.69e7},{"s":"6%SBS-W+3%Saso-UV","f":165,"g":3.13e7},{"s":"6%SBS-W+3%Saso-UV","f":266,"g":3.52e7},{"s":"6%SBS-W+3%Saso-UV","f":419,"g":3.95e7},{"s":"6%SBS-W+3%Saso-UV","f":676,"g":4.59e7},{"s":"6%SBS-W+3%Saso-UV","f":1079,"g":5.28e7},{"s":"6%SBS-W+3%Saso-UV","f":1675,"g":6.14e7},{"s":"6%SBS-W+3%Saso-UV","f":2630,"g":7.48e7}
]
},
"vconcat": [
{
"spacing": 7,
"resolve": {"scale": {"color": "independent", "x": "independent", "y": "independent"}, "legend": {"color": "independent"}},
"vconcat": [
{
  "width": 430, "height": 356,
  "title": {"text": "（a）", "anchor": "start", "frame": "group", "dx": -78, "offset": 5, "fontSize": 13, "font": "Noto Sans CJK SC", "fontWeight": "normal", "color": "#d9534f"},
  "data": {"name": "a"},
  "mark": {"type": "point", "shape": "square", "filled": false, "size": 42, "strokeWidth": 1.9, "opacity": 1},
  "encoding": {
    "x": {"field": "f", "type": "quantitative", "scale": {"type": "log", "domain": [0.001, 10000], "nice": false},
      "axis": {"title": "Reduce Frequency (rad/s)", "titleFontWeight": "bold", "titlePadding": 16,
        "values": [0.001,0.002,0.004,0.006,0.008,0.01,0.02,0.04,0.06,0.08,0.1,0.2,0.4,0.6,0.8,1,2,4,6,8,10,20,40,60,80,100,200,400,600,800,1000,2000,4000,6000,8000,10000],
        "labelExpr": "datum.value==0.001?'10⁻³':datum.value==0.01?'10⁻²':datum.value==0.1?'10⁻¹':datum.value==1?'1':datum.value==10?'10¹':datum.value==100?'10²':datum.value==1000?'10³':datum.value==10000?'10⁴':''",
        "tickSize": {"condition": {"test": "abs(log(datum.value)/LN10-round(log(datum.value)/LN10))<0.001", "value": 5}, "value": 3},
        "labelPadding": 7}},
    "y": {"field": "g", "type": "quantitative", "scale": {"type": "log", "domain": [1000, 100000000], "nice": false},
      "axis": {"title": "Complex Modulus（Pa）", "titleFontWeight": "bold", "titlePadding": 24,
        "values": [1000,2000,4000,6000,8000,10000,20000,40000,60000,80000,100000,200000,400000,600000,800000,1000000,2000000,4000000,6000000,8000000,10000000,20000000,40000000,60000000,80000000,100000000],
        "labelExpr": "datum.value==1000?'10³':datum.value==10000?'10⁴':datum.value==100000?'10⁵':datum.value==1000000?'10⁶':datum.value==10000000?'10⁷':datum.value==100000000?'10⁸':''",
        "tickSize": {"condition": {"test": "abs(log(datum.value)/LN10-round(log(datum.value)/LN10))<0.001", "value": 5}, "value": 3},
        "labelPadding": -2}},
    "color": {"field": "s", "type": "nominal",
      "scale": {"domain": ["5%SBS","5%SBS+3%Saso","5%SBS-T","5%SBS-T+3%Saso","6%SBS-W","6%SBS-W+3%Saso"], "range": ["#444444","#ee3a3a","#2f63b5","#2ea65f","#a47ec4","#d19d2e"]},
      "legend": {"orient": "none", "legendX": 463, "legendY": 3, "direction": "vertical", "title": null, "padding": 0, "symbolType": "square", "symbolSize": 50, "symbolStrokeWidth": 2, "labelFont": "Liberation Serif", "labelFontWeight": "bold", "labelFontSize": 12.5, "labelColor": "#222", "rowPadding": 51, "labelOffset": 6}}
  }
},
{
  "width": 417, "height": 346,
  "title": {"text": "（b）", "anchor": "start", "frame": "group", "dx": -78, "offset": 5, "fontSize": 13, "font": "Noto Sans CJK SC", "fontWeight": "normal", "color": "#d9534f"},
  "data": {"name": "b"},
  "mark": {"type": "point", "shape": "square", "filled": false, "size": 42, "strokeWidth": 1.9, "opacity": 1},
  "encoding": {
    "x": {"field": "f", "type": "quantitative", "scale": {"type": "log", "domain": [0.001, 10000], "nice": false},
      "axis": {"title": "Reduce Frequency (rad/s)", "titleFontWeight": "normal", "titlePadding": 15,
        "values": [0.001,0.002,0.004,0.006,0.008,0.01,0.02,0.04,0.06,0.08,0.1,0.2,0.4,0.6,0.8,1,2,4,6,8,10,20,40,60,80,100,200,400,600,800,1000,2000,4000,6000,8000,10000],
        "labelExpr": "datum.value==0.001?'10⁻³':datum.value==0.01?'10⁻²':datum.value==0.1?'10⁻¹':datum.value==1?'1':datum.value==10?'10¹':datum.value==100?'10²':datum.value==1000?'10³':datum.value==10000?'10⁴':''",
        "tickSize": {"condition": {"test": "abs(log(datum.value)/LN10-round(log(datum.value)/LN10))<0.001", "value": 5}, "value": 3},
        "labelPadding": 7}},
    "y": {"field": "g", "type": "quantitative", "scale": {"type": "log", "domain": [10000, 1000000000], "nice": false},
      "axis": {"title": "Complex Modulus（Pa）", "titleFontWeight": "normal", "titlePadding": 25,
        "values": [10000,20000,40000,60000,80000,100000,200000,400000,600000,800000,1000000,2000000,4000000,6000000,8000000,10000000,20000000,40000000,60000000,80000000,100000000,200000000,400000000,600000000,800000000,1000000000],
        "labelExpr": "datum.value==10000?'10⁴':datum.value==100000?'10⁵':datum.value==1000000?'10⁶':datum.value==10000000?'10⁷':datum.value==100000000?'10⁸':datum.value==1000000000?'10⁹':''",
        "tickSize": {"condition": {"test": "abs(log(datum.value)/LN10-round(log(datum.value)/LN10))<0.001", "value": 5}, "value": 3},
        "labelPadding": -2}},
    "color": {"field": "s", "type": "nominal",
      "scale": {"domain": ["5%SBS-PAV","5%SBS+3%Saso-PAV","5%SBS-T-PAV","5%SBS-T+3%Saso-PAV","6%SBS-W-PAV","6%SBS-W+3%Saso-PAV"], "range": ["#444444","#ee3a3a","#2f63b5","#2ea65f","#a47ec4","#d19d2e"]},
      "legend": {"orient": "none", "legendX": 450, "legendY": 1, "direction": "vertical", "title": null, "padding": 0, "symbolType": "square", "symbolSize": 50, "symbolStrokeWidth": 2, "labelFont": "Liberation Serif", "labelFontWeight": "normal", "labelFontSize": 11, "labelColor": "#222", "rowPadding": 50, "labelOffset": 11}}
  }
}
]
},
{
  "width": 415, "height": 331,
  "title": {"text": "（c）", "anchor": "start", "frame": "group", "dx": -78, "offset": 5, "fontSize": 13, "font": "Noto Sans CJK SC", "fontWeight": "normal", "color": "#d9534f"},
  "data": {"name": "c"},
  "mark": {"type": "point", "shape": "square", "filled": false, "size": 42, "strokeWidth": 1.9, "opacity": 1},
  "encoding": {
    "x": {"field": "f", "type": "quantitative", "scale": {"type": "log", "domain": [0.001, 10000], "nice": false},
      "axis": {"title": "Reduce Frequency (rad/s)", "titleFontWeight": "normal", "titlePadding": 15,
        "values": [0.001,0.002,0.004,0.006,0.008,0.01,0.02,0.04,0.06,0.08,0.1,0.2,0.4,0.6,0.8,1,2,4,6,8,10,20,40,60,80,100,200,400,600,800,1000,2000,4000,6000,8000,10000],
        "labelExpr": "datum.value==0.001?'10⁻³':datum.value==0.01?'10⁻²':datum.value==0.1?'10⁻¹':datum.value==1?'1':datum.value==10?'10¹':datum.value==100?'10²':datum.value==1000?'10³':datum.value==10000?'10⁴':''",
        "tickSize": {"condition": {"test": "abs(log(datum.value)/LN10-round(log(datum.value)/LN10))<0.001", "value": 5}, "value": 3},
        "labelPadding": 7}},
    "y": {"field": "g", "type": "quantitative", "scale": {"type": "log", "domain": [1000, 100000000], "nice": false},
      "axis": {"title": "Complex Modulus（Pa）", "titleFontWeight": "normal", "titlePadding": 25,
        "values": [1000,2000,4000,6000,8000,10000,20000,40000,60000,80000,100000,200000,400000,600000,800000,1000000,2000000,4000000,6000000,8000000,10000000,20000000,40000000,60000000,80000000,100000000],
        "labelExpr": "datum.value==1000?'10³':datum.value==10000?'10⁴':datum.value==100000?'10⁵':datum.value==1000000?'10⁶':datum.value==10000000?'10⁷':datum.value==100000000?'10⁸':''",
        "tickSize": {"condition": {"test": "abs(log(datum.value)/LN10-round(log(datum.value)/LN10))<0.001", "value": 5}, "value": 3},
        "labelPadding": -2}},
    "color": {"field": "s", "type": "nominal",
      "scale": {"domain": ["5%SBS-UV","5%SBS+3%Saso-UV","5%SBS-T-UV","5%SBS-T+3%Saso-UV","6%SBS-W-UV","6%SBS-W+3%Saso-UV"], "range": ["#444444","#ee3a3a","#2f63b5","#2ea65f","#a47ec4","#d19d2e"]},
      "legend": {"orient": "none", "legendX": 433, "legendY": -4, "direction": "vertical", "title": null, "padding": 0, "symbolType": "square", "symbolSize": 50, "symbolStrokeWidth": 2, "labelFont": "Liberation Serif", "labelFontWeight": "normal", "labelFontSize": 11.5, "labelColor": "#222", "rowPadding": 50, "labelOffset": 18}}
  }
}
]
}
